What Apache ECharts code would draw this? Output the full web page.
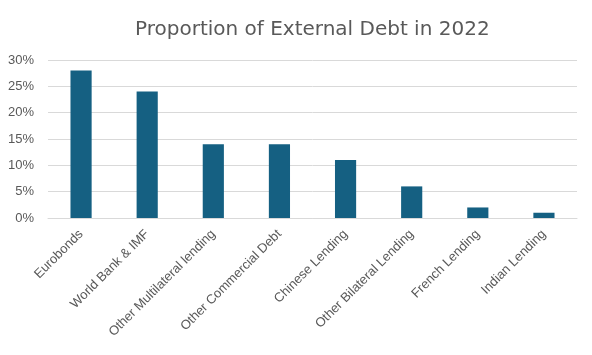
<!DOCTYPE html>
<html>
<head>
<meta charset="utf-8">
<script src="https://cdn.jsdelivr.net/npm/echarts@6/dist/echarts.min.js"></script>
<style>
html,body{margin:0;padding:0;background:#fff;}
#chart{width:592px;height:355px;}
</style>
</head>
<body>
<div id="chart"></div>
<script>
const categories = ["Eurobonds","World Bank & IMF","Other Multilateral lending","Other Commercial Debt","Chinese Lending","Other Bilateral Lending","French Lending","Indian Lending"];
const values = [28, 24, 14, 14, 11, 6, 2, 1];
const yTicks = [0, 5, 10, 15, 20, 25, 30];

const chart = echarts.init(document.getElementById('chart'));
chart.setOption({
  animation: false,
  title: {
    text: "Proportion of External Debt in 2022",
    left: 130,
    top: 15,
    textStyle: {fontFamily: 'DejaVu Sans, sans-serif', fontSize: 20, fontWeight: 'normal', color: '#595959'}
  },
  grid: {left: 48, right: 15, top: 60, bottom: 137},
  xAxis: {
    type: 'category',
    data: categories,
    axisLine: {lineStyle: {color: '#d9d9d9', width: 1}},
    axisTick: {show: false},
    axisLabel: {rotate: 45, color: '#595959', fontSize: 13, fontFamily: 'Liberation Sans, Arial, sans-serif', margin: 14, interval: 0}
  },
  yAxis: {
    type: 'value',
    min: yTicks[0],
    max: yTicks[yTicks.length-1],
    interval: 5,
    axisLine: {show: false},
    axisTick: {show: false},
    splitLine: {lineStyle: {color: '#d9d9d9', width: 1}},
    axisLabel: {color: '#595959', fontSize: 13, fontFamily: 'Liberation Sans, Arial, sans-serif', formatter: '{value}%', margin: 14}
  },
  series: [{
    type: 'bar',
    data: values,
    barWidth: '32%',
    itemStyle: {color: '#156082'}
  }]
});
</script>
</body>
</html>
